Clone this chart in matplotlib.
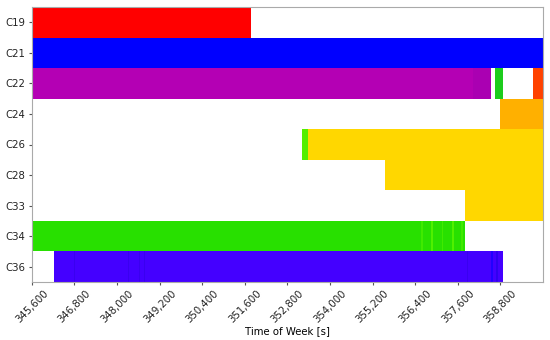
import matplotlib
matplotlib.use("Agg")
import matplotlib.pyplot as plt
from matplotlib.ticker import FuncFormatter

satellites = ["C19", "C21", "C22", "C24", "C26", "C28", "C33", "C34", "C36"]

# segments per satellite: (start, end, colour)
seg_C19 = [(345600, 351780, "#ff0000")]
seg_C21 = [(345600, 360000, "#0000ff")]
seg_C22 = [(345600, 358040, "#b400b4"), (358040, 358550, "#aa00b2"),
           (358660, 358870, "#1ccc1c"), (359720, 360000, "#ff4200")]
seg_C24 = [(358800, 360000, "#ffb000")]
seg_C26 = [(353220, 353380, "#55ee00"), (353380, 360000, "#ffd700")]
seg_C28 = [(355560, 360000, "#ffd700")]
seg_C33 = [(357810, 360000, "#ffd700")]
seg_C34 = [(345600, 357810, "#28e000"), (356580, 356620, "#40ea00"),
           (356860, 356900, "#50f000"), (357150, 357190, "#40ea00"),
           (357450, 357490, "#50f000"), (357700, 357740, "#40ea00")]
seg_C36 = [(346220, 358870, "#4400ff"), (346780, 346810, "#3a00f0"),
           (348300, 348330, "#3a00f0"), (348610, 348640, "#3a00f0"),
           (348770, 348800, "#3a00f0"), (357850, 357880, "#3a00f0"),
           (358550, 358590, "#2200ff"), (358690, 358730, "#3000f0")]

segments = [seg_C19, seg_C21, seg_C22, seg_C24, seg_C26, seg_C28, seg_C33, seg_C34, seg_C36]

x_min, x_max = 345600, 360000
x_ticks = list(range(345600, 359000, 1200))

fs = 7.3
fig = plt.figure(figsize=(5.5, 3.4), dpi=100)
ax = fig.add_axes([0.058, 0.171, 0.929, 0.808])

for i, segs in enumerate(segments):
    for (s, e, c) in segs:
        ax.broken_barh([(s, e - s)], (i - 0.5, 1.0), facecolors=c, edgecolor="none")

ax.set_xlim(x_min, x_max)
ax.set_ylim(len(satellites) - 0.5, -0.5)
ax.set_yticks(range(len(satellites)))
ax.set_yticklabels(satellites, fontsize=fs)
ax.set_xticks(x_ticks)
ax.xaxis.set_major_formatter(FuncFormatter(lambda v, p: f"{int(v):,}"))
for lab in ax.get_xticklabels():
    lab.set_rotation(45)
    lab.set_ha("center")
    lab.set_fontsize(fs)
ax.set_xlabel("Time of Week [s]", fontsize=fs, labelpad=1)
for sp in ax.spines.values():
    sp.set_color("#aaaaaa")
ax.tick_params(colors="#555555", labelcolor="#222222", length=2.5, pad=2)

fig.savefig("out.png", dpi=100)
